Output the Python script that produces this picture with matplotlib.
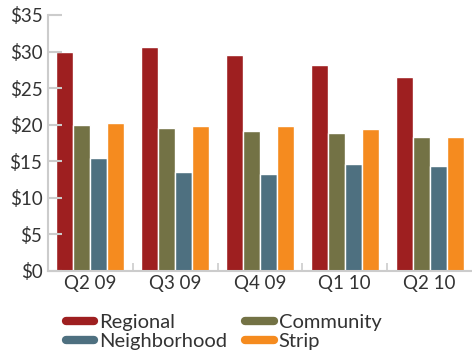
import matplotlib
matplotlib.use("Agg")
import matplotlib.pyplot as plt
from matplotlib.lines import Line2D
import numpy as np

categories = ["Q2 09", "Q3 09", "Q4 09", "Q1 10", "Q2 10"]
series_names = ["Regional", "Community", "Neighborhood", "Strip"]
regional = [30.0, 30.6, 29.5, 28.2, 26.5]
community = [19.9, 19.5, 19.1, 18.9, 18.3]
neighborhood = [15.5, 13.6, 13.3, 14.6, 14.3]
strip = [20.2, 19.8, 19.8, 19.4, 18.3]
yticks = [0, 5, 10, 15, 20, 25, 30, 35]
colors = ["#9E1F20", "#737245", "#4E7080", "#F58B1F"]

plt.rcParams['font.family'] = ['Lato', 'DejaVu Sans']

fig = plt.figure(figsize=(4.72, 3.56), dpi=100)
ax = fig.add_axes([48/472, 85/356, 424/472, 256/356])

x = np.arange(len(categories))
offsets = [-0.3, -0.1, 0.1, 0.3]
for vals, off, c in zip([regional, community, neighborhood, strip], offsets, colors):
    ax.bar(x + off, vals, width=0.2, color=c, edgecolor="white", linewidth=1)

ax.set_xlim(-0.5, len(categories) - 0.5)
ax.set_ylim(0, 35)
ax.set_yticks(yticks)
ax.set_yticklabels([f"${v}" for v in yticks], fontsize=13.5, color="#333333")
ax.set_xticks(x)
ax.set_xticklabels(categories, fontsize=13.5, color="#333333")
ax.tick_params(axis="x", length=0, pad=3)
ax.tick_params(axis="y", direction="in", length=10, width=1.5, color="#CCCCCC", pad=4)
ax.set_xticks(x[:-1] + 0.5, minor=True)
ax.tick_params(axis="x", which="minor", direction="in", length=6, width=1.2, color="#CCCCCC")

for s in ["top", "right"]:
    ax.spines[s].set_visible(False)
for s in ["left", "bottom"]:
    ax.spines[s].set_color("#CCCCCC")
    ax.spines[s].set_linewidth(1.5)

order = [0, 2, 1, 3]
handles = [Line2D([0], [0], color=colors[i], lw=6, solid_capstyle="round") for i in order]
labels = [series_names[i] for i in order]
fig.legend(handles, labels, ncol=2, loc="center left", bbox_to_anchor=(48/472, 1 - 332/356),
           frameon=False, fontsize=14.5, handlelength=1.4, handletextpad=0.25,
           columnspacing=0.9, labelspacing=0.12, labelcolor="#333333")

fig.savefig("out.png", dpi=100)
